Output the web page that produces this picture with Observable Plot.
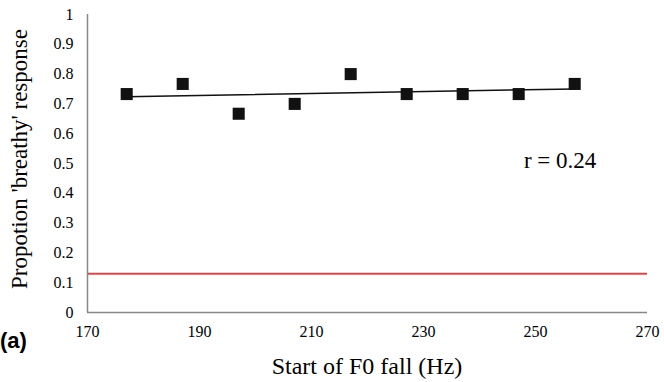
<!DOCTYPE html>
<html>
<head>
<meta charset="utf-8">
<script src="https://cdn.jsdelivr.net/npm/d3@7"></script>
<script src="https://cdn.jsdelivr.net/npm/@observablehq/plot@0.6"></script>
<style>
  html, body { margin: 0; padding: 0; background: #fff; }
  #wrap { position: relative; width: 664px; height: 382px; overflow: hidden; }
  #wrap svg text { font-family: "Liberation Serif", "Times New Roman", serif; }
  .lbl { position: absolute; font-family: "Liberation Serif", "Times New Roman", serif; color: #000; white-space: nowrap; line-height: 1; }
  #xtitle { left: 367px; top: 366px; font-size: 24px; transform: translate(-50%, -50%); }
  #ytitle { left: 19px; top: 159px; font-size: 23px; transform: translate(-50%, -50%) rotate(-90deg); }
  #panel { position: absolute; left: 0px; top: 330px; font-family: "Liberation Sans", Arial, sans-serif; font-weight: bold; font-size: 22px; color: #000; line-height: 1; }
</style>
</head>
<body>
<div id="wrap"></div>
<script>
// Data
const startHz = [177, 187, 197, 207, 217, 227, 237, 247, 257];
const propBreathy = [0.733, 0.767, 0.667, 0.700, 0.800, 0.733, 0.733, 0.733, 0.767];
const chanceLevel = [0.13];
const xTicks = [170, 190, 210, 230, 250, 270];
const yTicks = [0, 0.1, 0.2, 0.3, 0.4, 0.5, 0.6, 0.7, 0.8, 0.9, 1];
const xTitle = "Start of F0 fall (Hz)";
const yTitle = "Propotion 'breathy' response";
const panelLabel = "(a)";
const annotation = [{x: 254.4, y: 0.51, label: "r = 0.24"}];

const data = startHz.map((x, i) => ({x, y: propBreathy[i]}));
const serif = "Liberation Serif, Times New Roman, serif";

const chart = Plot.plot({
  width: 664,
  height: 382,
  marginLeft: 87,
  marginRight: 17,
  marginTop: 14,
  marginBottom: 70,
  style: {color: "#000", background: "#fff", fontFamily: serif},
  x: {domain: [170, 270], axis: null},
  y: {domain: [0, 1], axis: null},
  marks: [
    // tick labels drawn through the x and y scales
    Plot.text(xTicks, {x: d => d, frameAnchor: "bottom", lineAnchor: "top", dy: 13, text: d => String(d),
      fontSize: 16, fontFamily: serif, fill: "#000"}),
    Plot.text(yTicks, {y: d => d, frameAnchor: "left", textAnchor: "end", dx: -14, text: d => String(d),
      fontSize: 16, fontFamily: serif, fill: "#000"}),
    Plot.ruleY(chanceLevel, {stroke: "#ebbcba", strokeWidth: 3}),
    Plot.ruleY(chanceLevel, {stroke: "#c0504d", strokeWidth: 1.5}),
    Plot.ruleX([170], {stroke: "#888", strokeWidth: 1.5}),
    Plot.ruleY([0], {stroke: "#888", strokeWidth: 1.5}),
    Plot.linearRegressionY(data, {x: "x", y: "y", stroke: "#111", strokeWidth: 1.5, ci: 0}),
    Plot.dot(data, {x: "x", y: "y", symbol: "square", r: 6.8, fill: "#111", stroke: "none"}),
    Plot.text(annotation, {x: "x", y: "y", text: "label", fontSize: 23, fontFamily: serif, fill: "#000"})
  ]
});

const wrap = document.getElementById("wrap");
wrap.appendChild(chart);
chart.style.position = "absolute";
chart.style.left = "0";
chart.style.top = "0";

function addLabel(id, cls, text) {
  const d = document.createElement("div");
  d.id = id;
  if (cls) d.className = cls;
  d.textContent = text;
  wrap.appendChild(d);
}
addLabel("xtitle", "lbl", xTitle);
addLabel("ytitle", "lbl", yTitle);
addLabel("panel", "", panelLabel);
</script>
</body>
</html>
